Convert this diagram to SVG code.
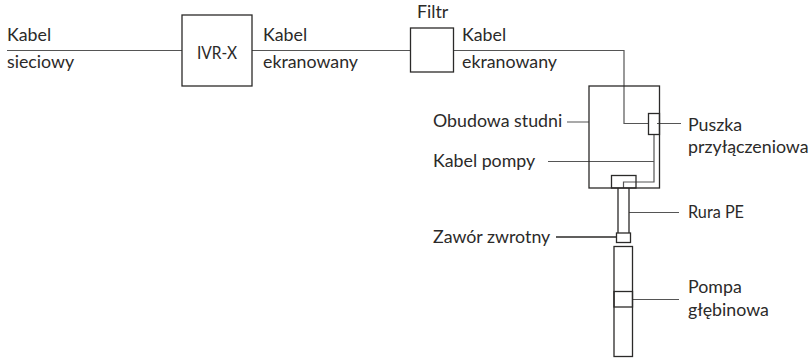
<svg xmlns="http://www.w3.org/2000/svg" width="810" height="358" viewBox="0 0 810 358">
<style>
.b{fill:none;stroke:#2b2a29;stroke-width:1.3}
.c{fill:none;stroke:#555;stroke-width:1.2}
text{font-family:"Lato","Noto Sans",sans-serif;font-size:17.8px;fill:#2b2a29}
</style>
<rect width="810" height="358" fill="#fff"/>
<g id="connectors">
<path class="c" d="M7 50.500H182M252 50.500H410.500M453.500 50.500H624V123.500H648.500"/>
<path class="c" d="M567 122H589M657 123.500H681M548 161.500H654M654 134.500V182H623.500V188"/>
<path class="c" d="M629 212.500H679M632.500 299.500H679"/>
<path class="b" d="M556 237H616.500"/>
</g>
<g id="ivr"><rect class="b" x="182" y="15" width="70" height="71"/><text x="197" y="59" textLength="40" lengthAdjust="spacingAndGlyphs">IVR-X</text></g>
<g id="filtr"><rect class="b" x="410.500" y="28" width="43" height="44"/><text x="417" y="18">Filtr</text></g>
<g id="obudowa"><rect class="b" x="589" y="86" width="70.500" height="102"/><text x="433" y="126.500">Obudowa studni</text></g>
<g id="puszka"><rect class="b" x="648.500" y="113.500" width="11" height="21"/><text x="688" y="131">Puszka</text><text x="688" y="152.500">przyłączeniowa</text></g>
<g id="glowica"><rect class="b" x="611.500" y="175.500" width="24.500" height="12.500"/></g>
<g id="rura"><path class="b" d="M618 188V233M629 188V233"/><text x="688" y="218" textLength="56" lengthAdjust="spacingAndGlyphs">Rura PE</text></g>
<g id="zawor"><rect class="b" x="616.500" y="233" width="14" height="9.500"/><text x="433" y="242.500">Zawór zwrotny</text></g>
<g id="pompa"><rect class="b" x="614" y="246.500" width="18.500" height="110"/><rect class="b" x="614" y="291.500" width="18.500" height="15.500"/><text x="688" y="293">Pompa</text><text x="688" y="315.500">głębinowa</text></g>
<g id="kabel-pompy"><text x="433" y="166.500">Kabel pompy</text></g>
<g id="labels"><text x="7" y="41">Kabel</text><text x="7" y="68">sieciowy</text><text x="263" y="41">Kabel</text><text x="263" y="68">ekranowany</text><text x="462" y="41">Kabel</text><text x="462" y="68">ekranowany</text></g>
</svg>
